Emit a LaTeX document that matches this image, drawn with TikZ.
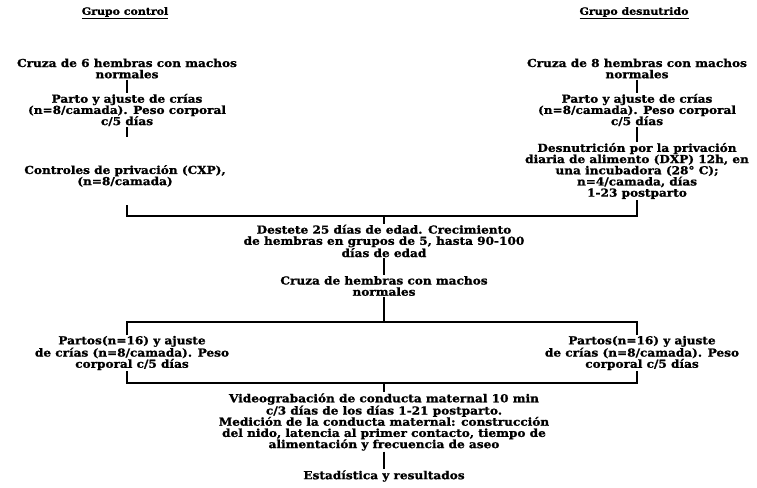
\documentclass[tikz,border=0pt]{standalone}
\usepackage{fontspec}
\setmainfont{DejaVu Serif}[FakeStretch=1.1, BoldFeatures={FakeBold=1.2}]
\begin{document}
\begin{tikzpicture}[x=1pt,y=-1pt,
  txt/.style={align=center,inner sep=1pt,font=\bfseries\fontsize{11}{11.2}\selectfont},
  ttl/.style={inner sep=1pt,font=\bfseries\fontsize{10}{11}\selectfont},
  conn/.style={line width=2.5pt,line join=miter}]
\useasboundingbox (0,0) rectangle (757,487);
% titles
\node[ttl] (tL) at (125,13) {\underline{Grupo control}};
\node[ttl] (tR) at (634,13) {\underline{Grupo desnutrido}};
% left column
\node[txt] (a1) at (127,68.5) {Cruza de 6 hembras con machos\\normales};
\node[txt] (a2) at (127,110) {Parto y ajuste de crías\\(n=8/camada). Peso corporal\\c/5 días};
\node[txt] (a3) at (125,176) {Controles de privación (CXP),\\(n=8/camada)};
% right column
\node[txt] (b1) at (637,68.5) {Cruza de 8 hembras con machos\\normales};
\node[txt] (b2) at (637,110) {Parto y ajuste de crías\\(n=8/camada). Peso corporal\\c/5 días};
\node[txt] (b3) at (637,171) {Desnutrición por la privación\\diaria de alimento (DXP) 12h, en\\una incubadora (28° C);\\n=4/camada, días\\1-23 postparto};
% middle
\node[txt] (m1) at (384,241) {Destete 25 días de edad. Crecimiento\\de hembras en grupos de 5, hasta 90-100\\días de edad};
\node[txt] (m2) at (384,286) {Cruza de hembras con machos\\normales};
\node[txt] (pL) at (132,353) {Partos(n=16) y ajuste\\de crías (n=8/camada). Peso\\corporal c/5 días};
\node[txt] (pR) at (642,353) {Partos(n=16) y ajuste\\de crías (n=8/camada). Peso\\corporal c/5 días};
\node[txt] (v) at (384,422) {Videograbación de conducta maternal 10 min\\c/3 días de los días 1-21 postparto.\\Medición de la conducta maternal: construcción\\del nido, latencia al primer contacto, tiempo de\\alimentación y frecuencia de aseo};
\node[txt] (e) at (384,476) {Estadística y resultados};
% coordinates
\coordinate (a2e) at (127,137);
\coordinate (cL) at (127,205);
\coordinate (h1) at (384,216);
\coordinate (h2) at (384,322);
\coordinate (h3) at (384,383);
\coordinate (pLt) at (127,335);
\coordinate (pLb) at (127,371);
\coordinate (pRt) at (637,335);
\coordinate (pRb) at (637,371);
% connectors
\draw[conn] (a1) -- (a2);
\draw[conn] (a2) -- (a2e);
\draw[conn] (b1) -- (b2);
\draw[conn] (b2) -- (b3);
\draw[conn] (cL) |- (h1) -| (b3.south);
\draw[conn] (h1) -- (m1);
\draw[conn] (m1) -- (m2);
\draw[conn] (m2) -- (h2);
\draw[conn] (pLt) |- (h2) -| (pRt);
\draw[conn] (pLb) |- (h3) -| (pRb);
\draw[conn] (h3) -- (v);
\draw[conn] (v) -- (e);
\end{tikzpicture}
\end{document}
